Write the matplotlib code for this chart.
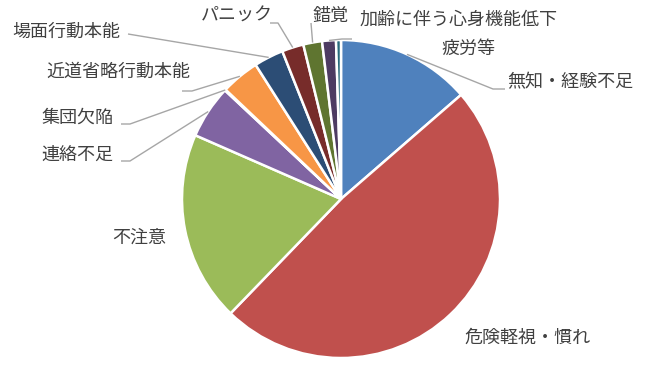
import numpy as np
import matplotlib.pyplot as plt

plt.rcParams['font.family'] = ['Noto Sans CJK JP', 'DejaVu Sans']

# データ (単位: %)
labels = ['無知・経験不足', '危険軽視・慣れ', '不注意', '連絡不足', '集団欠陥',
          '近道省略行動本能', '場面行動本能', 'パニック', '錯覚',
          '加齢に伴う心身機能低下', '疲労等']
values = [13.6, 48.5, 19.3, 5.4, 0.1, 3.9, 3.0, 2.2, 1.9, 1.4, 0.5]
colors = ['#4F81BD', '#C0504D', '#9BBB59', '#8064A2', '#4BACC6', '#F79646',
          '#2C4D75', '#772C2A', '#5F7530', '#4D3B62', '#276A7C']

W, H = 651, 378
fig = plt.figure(figsize=(W / 100, H / 100), dpi=100)
ax = fig.add_axes([0, 0, 1, 1])

cx, cy, r = 341, H - 199, 159
wedges, _ = ax.pie(values, colors=colors, startangle=90, counterclock=False,
                   center=(cx, cy), radius=r,
                   wedgeprops=dict(edgecolor='white', linewidth=1.8))
ax.set_xlim(0, W)
ax.set_ylim(0, H)
ax.set_aspect('equal')
ax.axis('off')

# ラベル位置 (画像座標: 左上原点)
text_pos = [(507, 82), (464, 338), (112, 238), (41, 155), (41, 118),
            (46, 72), (12, 32), (201, 16), (313, 16), (360, 20), (441, 49)]
# 引き出し線: (折れ点, 終点)
leaders = [((493, 89), (505, 89)), None, None,
           ((130, 161), (121, 161)), ((130, 124), (121, 124)),
           ((192, 91), (182, 91)), ((128, 34), (128, 34)),
           ((278, 23), (270, 23)), ((311, 23), (311, 23)),
           ((342, 39), (352, 39)), None]

for w, lab, (tx, ty), ld in zip(wedges, labels, text_pos, leaders):
    ax.text(tx, H - ty, lab, ha='left', va='center', fontsize=13,
            color='#404040')
    if ld is None:
        continue
    mid = np.deg2rad((w.theta1 + w.theta2) / 2)
    ax_, ay_ = cx + r * np.cos(mid), cy + r * np.sin(mid)
    (ex, ey), (fx, fy) = ld
    ax.plot([ax_, ex, fx], [ay_, H - ey, H - fy], color='#A6A6A6', lw=1,
            solid_capstyle='butt')

fig.savefig('out.png', dpi=100)
